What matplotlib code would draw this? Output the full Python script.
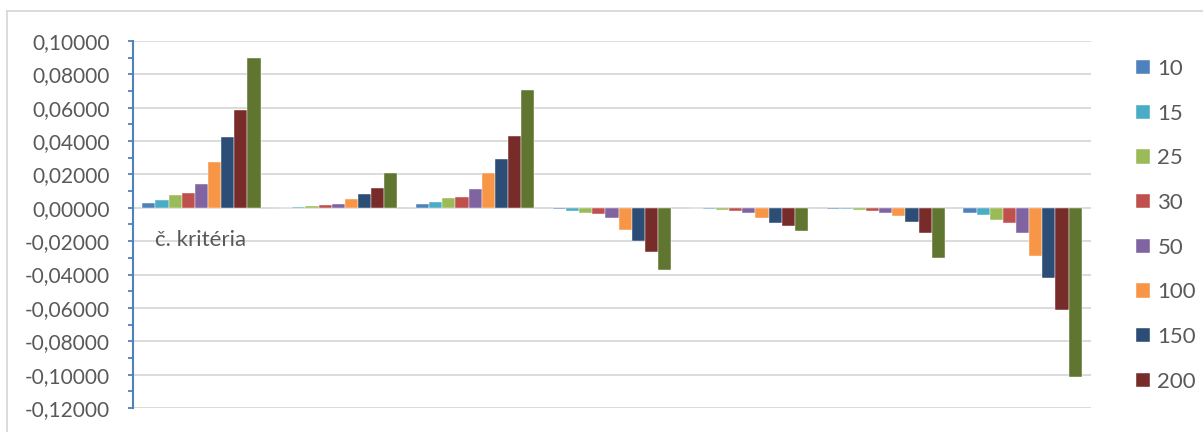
import matplotlib
matplotlib.use("Agg")
import matplotlib.pyplot as plt
from matplotlib.lines import Line2D
from matplotlib.ticker import MultipleLocator, FuncFormatter
import numpy as np

plt.rcParams['font.family'] = ['Lato', 'DejaVu Sans']

categories = ["1", "2", "3", "4", "5", "6", "7"]
series_labels = ["10", "15", "25", "30", "50", "100", "150", "200", "300"]
colors = ["#4F81BD", "#4BACC6", "#9BBB59", "#C0504D", "#8064A2",
          "#F79646", "#2C4D75", "#772C2A", "#5F7530"]

s10  = [0.0028, 0.0001, 0.0020, -0.0010, -0.0003, -0.0006, -0.0030]
s15  = [0.0044, 0.0002, 0.0032, -0.0018, -0.0006, -0.0010, -0.0046]
s25  = [0.0074, 0.0012, 0.0056, -0.0030, -0.0016, -0.0014, -0.0076]
s30  = [0.0088, 0.0016, 0.0066, -0.0038, -0.0020, -0.0020, -0.0092]
s50  = [0.0144, 0.0024, 0.0112, -0.0064, -0.0032, -0.0032, -0.0150]
s100 = [0.0276, 0.0050, 0.0206, -0.0134, -0.0060, -0.0050, -0.0290]
s150 = [0.0426, 0.0080, 0.0294, -0.0200, -0.0092, -0.0088, -0.0422]
s200 = [0.0584, 0.0116, 0.0430, -0.0262, -0.0110, -0.0148, -0.0612]
s300 = [0.0900, 0.0210, 0.0708, -0.0372, -0.0138, -0.0302, -0.1014]
series = [s10, s15, s25, s30, s50, s100, s150, s200, s300]

W, H = 1203, 432
fig = plt.figure(figsize=(W / 100, H / 100), dpi=100)
ax = fig.add_axes([133 / W, 1 - 408 / H, (1091 - 133) / W, (408 - 41) / H])

x = np.arange(len(categories))
bw = 0.096
n = len(series)
handles = []
for i, (vals, lab, col) in enumerate(zip(series, series_labels, colors)):
    off = (i - (n - 1) / 2) * bw
    b = ax.bar(x + off, vals, width=bw, color=col, label=lab, zorder=3,
               edgecolor="white", linewidth=0.3)
    handles.append(b)

ax.set_xlim(-0.5, len(categories) - 0.5)
ax.set_ylim(-0.12, 0.10)
ax.yaxis.set_major_locator(MultipleLocator(0.02))
ax.yaxis.set_minor_locator(MultipleLocator(0.01))
ax.yaxis.set_major_formatter(FuncFormatter(lambda v, p: f"{v:.5f}".replace(".", ",").replace("-0,00000", "0,00000")))
ax.grid(axis="y", which="major", color="#D9D9D9", linewidth=1.3, zorder=0)
ax.set_xticks([])
for s in ["top", "right", "bottom"]:
    ax.spines[s].set_visible(False)
ax.spines["left"].set_color("#4F81BD")
ax.spines["left"].set_linewidth(1.5)
ax.spines["left"].set_zorder(4)
ax.tick_params(axis="y", which="both", direction="out", length=3.7, width=1.3,
               color="#4F81BD", labelcolor="#595959", labelsize=15, pad=13)

ax.text(22 / (1091 - 133), (408 - 240) / (408 - 41), "č. kritéria",
        transform=ax.transAxes, ha="left", va="center", fontsize=16, color="#595959")

leg = fig.legend(handles=handles[:8], loc="upper left",
                 bbox_to_anchor=(1127 / W, 1 - 50 / H), frameon=False,
                 fontsize=16, labelcolor="#595959", handlelength=0.62,
                 handleheight=0.62, handletextpad=0.35, labelspacing=1.11,
                 borderaxespad=0)

fig.add_artist(Line2D([7 / W, 7 / W], [0, 1 - 11 / H], color="#D9D9D9", lw=1.3,
                      transform=fig.transFigure))
fig.add_artist(Line2D([7 / W, 1], [1 - 11 / H, 1 - 11 / H], color="#D9D9D9", lw=1.3,
                      transform=fig.transFigure))

fig.savefig("out.png", dpi=100)
